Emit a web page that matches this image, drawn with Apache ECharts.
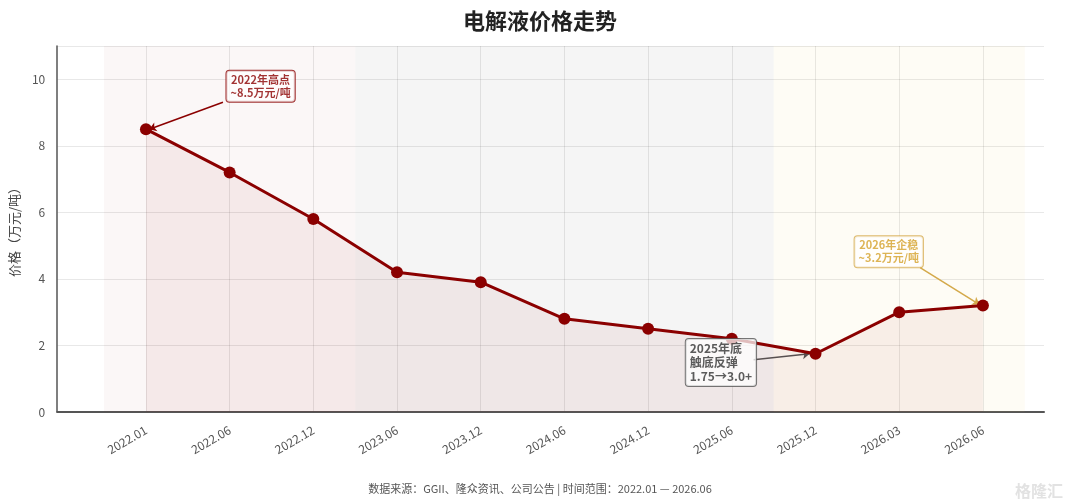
<!DOCTYPE html>
<html>
<head>
<meta charset="utf-8">
<title>电解液价格走势</title>
<script src="https://cdn.jsdelivr.net/npm/echarts@6/dist/echarts.min.js"></script>
<style>
  html, body { margin: 0; padding: 0; background: #fff; }
  #main { width: 1080px; height: 503px; }
</style>
</head>
<body>
<div id="main"></div>
<script>
// 数据
var months = ['2022.01', '2022.06', '2022.12', '2023.06', '2023.12', '2024.06',
              '2024.12', '2025.06', '2025.12', '2026.03', '2026.06'];
var prices = [8.5, 7.2, 5.8, 4.2, 3.9, 2.8, 2.5, 2.2, 1.75, 3.0, 3.2];
var yTicks = [0, 2, 4, 6, 8, 10];

// 阶段背景 [起, 止] (按月份序号)
var phases = [[-0.5, 2.5], [2.5, 7.5], [7.5, 10.5]];

// 标注: 文本框位置、箭头起点、箭头终点 (数据坐标)
var notes = [
  { text: '2022年高点\n~8.5万元/吨', at: [1.37, 9.79], from: [0.92, 9.31], to: [0.04, 8.5] },
  { text: '2026年企稳\n~3.2万元/吨', at: [8.875, 4.82], from: [9.25, 4.34], to: [9.96, 3.23] },
  { text: '2025年底\n触底反弹\n1.75→3.0+', at: [6.45, 1.49], from: [7.26, 1.57], to: [7.93, 1.75] }
];

var FONT = '"Noto Sans CJK SC", "Noto Sans", sans-serif';
var red = '#8b0000';
var idx = months.map(function (m, i) { return i; });

var chart = echarts.init(document.getElementById('main'));

var noteStyles = [
  { color: red, border: red, size: 11, lh: 13, align: 'center' },
  { color: '#d4a12a', border: '#d4a94a', size: 11, lh: 13, align: 'center' },
  { color: '#333', border: '#555', size: 12, lh: 14, align: 'left' }
];

var option = {
  backgroundColor: '#fff',
  animation: false,
  textStyle: { fontFamily: FONT },
  title: [{
    text: '电解液价格走势',
    left: 'center', top: 5,
    textStyle: { fontSize: 22, fontWeight: 'bold', color: '#222', fontFamily: FONT }
  }, {
    text: '数据来源：GGII、隆众资讯、公司公告 | 时间范围：2022.01 — 2026.06',
    left: 'center', top: 478,
    textStyle: { fontSize: 11, fontWeight: 'normal', color: '#555', fontFamily: FONT }
  }, {
    text: '格隆汇',
    right: 12, top: 478,
    textStyle: { fontSize: 16, fontWeight: 'bold', color: '#e2e2e2', fontFamily: FONT }
  }],
  grid: { left: 52, right: 36, top: 46, bottom: 91 },
  xAxis: {
    type: 'value',
    min: -1.06, max: 10.73,
    axisLine: { show: true, onZero: false, lineStyle: { color: '#555', width: 2 } },
    axisTick: { show: false, customValues: idx },
    axisLabel: {
      customValues: idx,
      rotate: 30,
      color: '#555', fontSize: 12, fontFamily: FONT,
      margin: 17,
      formatter: function (v) { return months[Math.round(v)] || ''; }
    },
    splitLine: { show: true, lineStyle: { color: 'rgba(0,0,0,0.09)', width: 1 } }
  },
  yAxis: {
    type: 'value',
    min: 0, max: 11, interval: 2,
    name: '价格（万元/吨）',
    nameLocation: 'middle', nameGap: 32, nameRotate: 90,
    nameTextStyle: { color: '#444', fontSize: 13, fontFamily: FONT },
    axisLine: { show: true, onZero: false, lineStyle: { color: '#555', width: 1.5 } },
    axisTick: { show: false },
    axisLabel: {
      color: '#555', fontSize: 12, fontFamily: FONT, margin: 12,
      formatter: function (v) { return yTicks.indexOf(v) >= 0 ? v : ''; }
    },
    splitLine: { lineStyle: { color: 'rgba(0,0,0,0.09)' } }
  },
  series: [{
    type: 'line',
    name: '价格',
    data: prices.map(function (p, i) { return [i, p]; }),
    lineStyle: { color: red, width: 3 },
    itemStyle: { color: red },
    symbol: 'circle', symbolSize: 12,
    areaStyle: { color: 'rgba(139,0,0,0.08)' },
    z: 5,
    markArea: {
      silent: true,
      data: [
        [{ xAxis: phases[0][0], itemStyle: { color: 'rgba(160,60,60,0.04)' } }, { xAxis: phases[0][1] }],
        [{ xAxis: phases[1][0], itemStyle: { color: 'rgba(120,120,120,0.07)' } }, { xAxis: phases[1][1] }],
        [{ xAxis: phases[2][0], itemStyle: { color: 'rgba(240,210,90,0.06)' } }, { xAxis: phases[2][1] }]
      ]
    },
    markLine: {
      silent: true,
      symbol: ['none', 'arrow'],
      symbolSize: 7,
      label: { show: false },
      data: notes.map(function (n, i) {
        return [
          { coord: n.from, lineStyle: { color: noteStyles[i].border, width: 1.5, type: 'solid' } },
          { coord: n.to }
        ];
      })
    }
  }, {
    type: 'scatter',
    symbolSize: 0,
    z: 10,
    data: notes.map(function (n, i) {
      var s = noteStyles[i];
      return {
        value: n.at,
        label: {
          show: true,
          position: 'inside',
          formatter: n.text,
          fontFamily: FONT,
          fontSize: s.size,
          lineHeight: s.lh,
          fontWeight: 'bold',
          color: s.color,
          align: s.align,
          backgroundColor: 'rgba(255,255,255,0.92)',
          borderColor: s.border,
          borderWidth: 1,
          borderRadius: 3,
          padding: [3, 4, 2, 4]
        }
      };
    })
  }]
};

chart.setOption(option);
</script>
</body>
</html>
